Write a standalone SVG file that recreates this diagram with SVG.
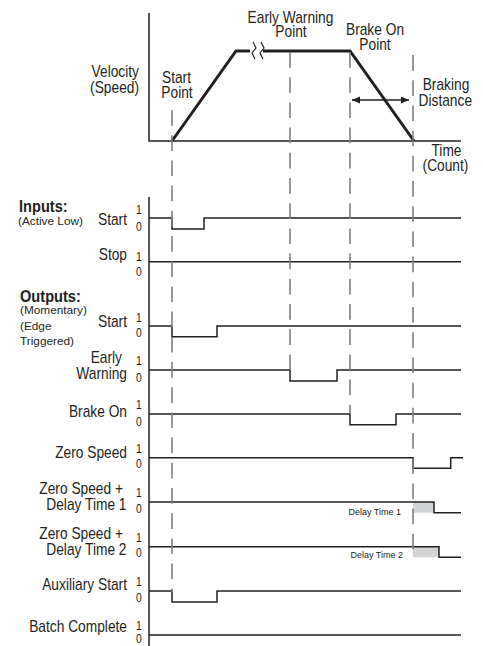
<svg xmlns="http://www.w3.org/2000/svg" width="483" height="646" viewBox="0 0 483 646">
<defs>
<marker id="ah" markerUnits="userSpaceOnUse" markerWidth="9" markerHeight="8" refX="8" refY="3.5" orient="auto-start-reverse"><path d="M0,0 L8,3.5 L0,7 z" fill="#231f20"/></marker>
</defs>
<style>
.t{font-family:"Liberation Sans",Arial,sans-serif;font-size:16px;fill:#231f20;transform:scale(0.86,1)}
.r{text-anchor:end}
.m{text-anchor:middle}
.b{font-weight:bold;font-size:17px}
.s{font-family:"Liberation Sans",Arial,sans-serif;font-size:11.8px;fill:#231f20}
.d{font-family:"Liberation Sans",Arial,sans-serif;font-size:12px;fill:#231f20;text-anchor:middle;transform:scale(0.86,1)}
.x{font-family:"Liberation Sans",Arial,sans-serif;font-size:9px;fill:#231f20;text-anchor:end}
.sig{fill:none;stroke:#231f20;stroke-width:1.5}
.ax{fill:none;stroke:#231f20;stroke-width:1.5}
.vel{fill:none;stroke:#231f20;stroke-width:3}
.brk{fill:none;stroke:#231f20;stroke-width:1.2}
.dash{fill:none;stroke:#7f7f7f;stroke-width:1.6;stroke-dasharray:15.7 9.5}
.gray{fill:#d1d3d4}
</style>

<g id="velocity-graph">
<path class="ax" d="M149 13 V141 H461"/>
<path class="vel" d="M172 141 L236 51 H250 M263 51 H350 L414 141"/>
<path class="brk" d="M253 42 l3 6 l-4 5 l3 6 M261 42 l3 6 l-4 5 l3 6"/>
<text class="t r" x="161.63" y="77">Velocity</text>
<text class="t r" x="161.63" y="93.5">(Speed)</text>
<text class="t m" x="205.23" y="83">Start</text>
<text class="t m" x="205.81" y="98">Point</text>
<text class="t m" x="337.79" y="22.7">Early Warning</text>
<text class="t m" x="338.37" y="37">Point</text>
<text class="t m" x="436.05" y="35">Brake On</text>
<text class="t m" x="436.05" y="50">Point</text>
<text class="t m" x="518.6" y="90">Braking</text>
<text class="t m" x="517.79" y="106">Distance</text>
<text class="t m" x="519.19" y="156.5">Time</text>
<text class="t m" x="518.02" y="171">(Count)</text>
</g>

<g id="timing-axis">
<path class="ax" d="M149 197 V646"/>
<text class="t b" x="22.09" y="211.7">Inputs:</text>
<text class="s" x="18" y="224.5">(Active Low)</text>
<text class="t b" x="23.26" y="301.7">Outputs:</text>
<text class="s" x="20" y="313.5">(Momentary)</text>
<text class="s" x="20" y="329.5">(Edge</text>
<text class="s" x="20" y="345">Triggered)</text>
</g>

<g id="row-input-start">
<text class="t r" x="147.67" y="224.8">Start</text>
<text class="d" x="161.63" y="214">1</text><text class="d" x="161.63" y="230.7">0</text>
<path class="sig" d="M149 218 H172 V229 H204 V218 H461"/>
</g>
<g id="row-input-stop">
<text class="t r" x="147.67" y="260.5">Stop</text>
<text class="d" x="161.63" y="260.7">1</text><text class="d" x="161.63" y="276">0</text>
<path class="sig" d="M149 261.7 H461"/>
</g>
<g id="row-output-start">
<text class="t r" x="147.67" y="326.7">Start</text>
<text class="d" x="161.63" y="322">1</text><text class="d" x="161.63" y="337">0</text>
<path class="sig" d="M149 326 H172 V336.7 H217 V326 H461"/>
</g>
<g id="row-early-warning">
<text class="t r" x="141.86" y="363.5">Early</text>
<text class="t r" x="147.67" y="379.5">Warning</text>
<text class="d" x="161.63" y="365">1</text><text class="d" x="161.63" y="381.7">0</text>
<path class="sig" d="M149 370 H290 V381 H337 V370 H461"/>
</g>
<g id="row-brake-on">
<text class="t r" x="147.67" y="417">Brake On</text>
<text class="d" x="161.63" y="409">1</text><text class="d" x="161.63" y="425.7">0</text>
<path class="sig" d="M149 414 H350 V424.7 H396 V414 H461"/>
</g>
<g id="row-zero-speed">
<text class="t r" x="147.67" y="458">Zero Speed</text>
<text class="d" x="161.63" y="452.7">1</text><text class="d" x="161.63" y="468">0</text>
<path class="sig" d="M149 457.7 H413 V468.3 H450.7 V457.7 H463"/>
</g>
<g id="row-delay-1">
<text class="t r" x="143.02" y="494">Zero Speed +</text>
<text class="t r" x="147.09" y="510">Delay Time 1</text>
<text class="d" x="161.63" y="497">1</text><text class="d" x="161.63" y="512.7">0</text>
<rect class="gray" x="413" y="502" width="21" height="10.7"/>
<path class="sig" d="M149 502 H434 V512.7 H461"/>
<text class="x" x="401" y="515">Delay Time 1</text>
</g>
<g id="row-delay-2">
<text class="t r" x="143.02" y="539.5">Zero Speed +</text>
<text class="t r" x="147.09" y="555">Delay Time 2</text>
<text class="d" x="161.63" y="541.7">1</text><text class="d" x="161.63" y="557">0</text>
<rect class="gray" x="413" y="546.7" width="26" height="10.6"/>
<path class="sig" d="M149 546.7 H439 V557.3 H461"/>
<text class="x" x="403" y="558">Delay Time 2</text>
</g>
<g id="row-auxiliary-start">
<text class="t r" x="147.67" y="590">Auxiliary Start</text>
<text class="d" x="161.63" y="586">1</text><text class="d" x="161.63" y="601.7">0</text>
<path class="sig" d="M149 591 H172 V602 H217 V591 H461"/>
</g>
<g id="row-batch-complete">
<text class="t r" x="147.67" y="632.5">Batch Complete</text>
<text class="d" x="161.63" y="630">1</text><text class="d" x="161.63" y="643.5">0</text>
<path class="sig" d="M149 635 H461"/>
</g>

<g id="connectors">
<path class="dash" d="M172 110 V592"/>
<path class="dash" d="M290 52 V370"/>
<path class="dash" d="M350 52 V414"/>
<path class="dash" d="M413 55 V551"/>
<path fill="none" stroke="#231f20" stroke-width="1.3" d="M352 100 H409" marker-start="url(#ah)" marker-end="url(#ah)"/>
</g>
</svg>
